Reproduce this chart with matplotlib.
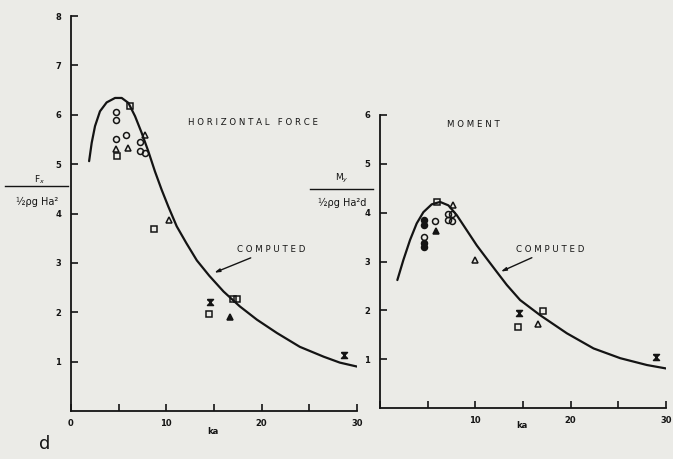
import numpy as np
import matplotlib
matplotlib.use("Agg")
from matplotlib import pyplot as plt
from matplotlib.lines import Line2D

# computed curves
fx_curve_x = [1.9, 2.17, 2.52, 3.04, 3.74, 4.62, 5.32, 6.02, 6.72, 7.42, 8.11, 8.81, 9.51, 10.21,
              11.09, 12.1, 13.2, 14.5, 16.0, 17.7, 19.5, 21.6, 24.0, 26.5, 28.2, 30.0]
fx_curve_y = [5.06, 5.43, 5.77, 6.07, 6.25, 6.34, 6.34, 6.24, 5.97, 5.63, 5.26, 4.85, 4.48, 4.14,
              3.74, 3.40, 3.05, 2.74, 2.42, 2.12, 1.85, 1.58, 1.30, 1.10, 0.98, 0.90]
my_curve_x = [1.82, 2.45, 3.15, 3.85, 4.55, 5.42, 6.30, 7.17, 8.05, 9.10, 10.15, 11.19, 12.24, 13.3,
              14.7, 16.8, 19.6, 22.4, 25.2, 28.0, 30.0]
my_curve_y = [2.62, 3.03, 3.44, 3.78, 4.01, 4.17, 4.22, 4.15, 3.95, 3.64, 3.33, 3.06, 2.79, 2.52,
              2.21, 1.90, 1.53, 1.22, 1.02, 0.88, 0.81]

# measured points, horizontal force
fx_circ_x = [4.7, 4.7, 4.7, 5.8, 7.2, 7.2, 7.8]
fx_circ_y = [6.06, 5.90, 5.50, 5.59, 5.44, 5.26, 5.23]
fx_tri_x = [4.7, 6.0, 7.8, 10.3]
fx_tri_y = [5.30, 5.33, 5.60, 3.87]
fx_ftri_x = [16.7]
fx_ftri_y = [1.91]
fx_sq_x = [4.8, 6.2, 8.75, 14.5, 17.0, 17.4]
fx_sq_y = [5.16, 6.17, 3.68, 1.96, 2.27, 2.27]
fx_hg_x = [14.6, 28.6]
fx_hg_y = [2.20, 1.14]

# measured points, moment
my_circ_x = [5.75, 7.1, 7.1, 7.6, 7.6, 4.6]
my_circ_y = [3.82, 3.97, 3.84, 3.97, 3.82, 3.50]
my_fcirc_x = [4.6, 4.6, 4.6, 4.6]
my_fcirc_y = [3.84, 3.74, 3.37, 3.29]
my_tri_x = [7.7, 10.0, 16.6]
my_tri_y = [4.15, 3.03, 1.72]
my_ftri_x = [5.85]
my_ftri_y = [3.62]
my_sq_x = [6.0, 14.45, 17.1]
my_sq_y = [4.22, 1.66, 1.98]
my_hg_x = [14.6, 28.9]
my_hg_y = [1.95, 1.05]

ink = "#141414"
bg = "#ebebe7"
hourglass = [(-1, 1), (1, 1), (-1, -1), (1, -1), (-1, 1)]

fig = plt.figure(figsize=(6.73, 4.59), dpi=100, facecolor=bg)
W, H = 673, 459
ax1 = fig.add_axes([71 / W, 1 - 411 / H, 286 / W, 395 / H], facecolor=bg)
ax2 = fig.add_axes([380 / W, 1 - 408 / H, 286 / W, 293 / H], facecolor=bg)


def style(ax, ymax, first_label):
    ax.set_xlim(0, 30)
    ax.set_ylim(0, ymax)
    for s in ["top", "right"]:
        ax.spines[s].set_visible(False)
    for s in ["left", "bottom"]:
        ax.spines[s].set_color(ink)
        ax.spines[s].set_linewidth(1.3)
    ax.set_xticks(range(0, 31, 5))
    ax.set_xticklabels([first_label, "", "10", "", "20", "", "30"])
    ax.set_yticks(range(1, ymax + 1))
    ax.tick_params(direction="in", length=5, width=1.2, color=ink, labelcolor=ink, labelsize=6)
    ax.tick_params(axis="y", pad=7)
    ax.tick_params(axis="x", pad=6)
    for lab in ax.get_xticklabels() + ax.get_yticklabels():
        lab.set_fontweight("bold")


style(ax1, 8, "0")
style(ax2, 6, "")

mk = dict(linestyle="none", color=ink, markersize=4.3, markeredgewidth=1.1)
cv = dict(color=ink, lw=1.6, solid_joinstyle="round", solid_capstyle="round")

ax1.plot(fx_curve_x, fx_curve_y, **cv)
ax1.plot(fx_circ_x, fx_circ_y, marker="o", markerfacecolor="none", **mk)
ax1.plot(fx_tri_x, fx_tri_y, marker="^", markerfacecolor="none", **mk)
ax1.plot(fx_ftri_x, fx_ftri_y, marker="^", **mk)
ax1.plot(fx_sq_x, fx_sq_y, marker="s", markerfacecolor="none", **mk)
ax1.plot(fx_hg_x, fx_hg_y, marker=hourglass, **mk)

ax2.plot(my_curve_x, my_curve_y, **cv)
ax2.plot(my_circ_x, my_circ_y, marker="o", markerfacecolor="none", **mk)
ax2.plot(my_fcirc_x, my_fcirc_y, marker="o", **mk)
ax2.plot(my_tri_x, my_tri_y, marker="^", markerfacecolor="none", **mk)
ax2.plot(my_ftri_x, my_ftri_y, marker="^", **mk)
ax2.plot(my_sq_x, my_sq_y, marker="s", markerfacecolor="none", **mk)
ax2.plot(my_hg_x, my_hg_y, marker=hourglass, **mk)

txt = dict(color=ink, fontsize=7, ha="center", va="center")
ax1.text(19.1, 5.84, "H O R I Z O N T A L   F O R C E", **dict(txt, fontsize=6.2))
ax2.text(9.8, 5.81, "M O M E N T", **dict(txt, fontsize=6.2))
arrow = dict(arrowstyle="-|>,head_length=0.5,head_width=0.15", color=ink, lw=1.0)
ax1.annotate("C O M P U T E D", xy=(14.76, 2.78), xytext=(21.0, 3.27),
             arrowprops=arrow, **dict(txt, fontsize=6.2))
ax2.annotate("C O M P U T E D", xy=(12.41, 2.77), xytext=(17.9, 3.25),
             arrowprops=arrow, **dict(txt, fontsize=6.2))

# y axis labels as fractions
fig.text(40 / W, 1 - 180 / H, "F$_x$", **dict(txt, fontsize=6.5))
fig.add_artist(Line2D([5 / W, 68 / W], [1 - 186 / H, 1 - 186 / H], color=ink, lw=1.0))
fig.text(37 / W, 1 - 202 / H, "½ρg Ha²", **dict(txt, fontsize=7))
fig.text(342 / W, 1 - 178 / H, "M$_y$", **dict(txt, fontsize=6.5))
fig.add_artist(Line2D([310 / W, 373 / W], [1 - 189 / H, 1 - 189 / H], color=ink, lw=1.0))
fig.text(342 / W, 1 - 203 / H, "½ρg Ha²d", **dict(txt, fontsize=7))

fig.text(213 / W, 1 - 432 / H, "ka", **dict(txt, fontsize=6, fontweight="bold"))
fig.text(522 / W, 1 - 425 / H, "ka", **dict(txt, fontsize=6, fontweight="bold"))
fig.text(45 / W, 1 - 444 / H, "d", **dict(txt, fontsize=13))

fig.savefig("out.png", dpi=100, facecolor=bg)
